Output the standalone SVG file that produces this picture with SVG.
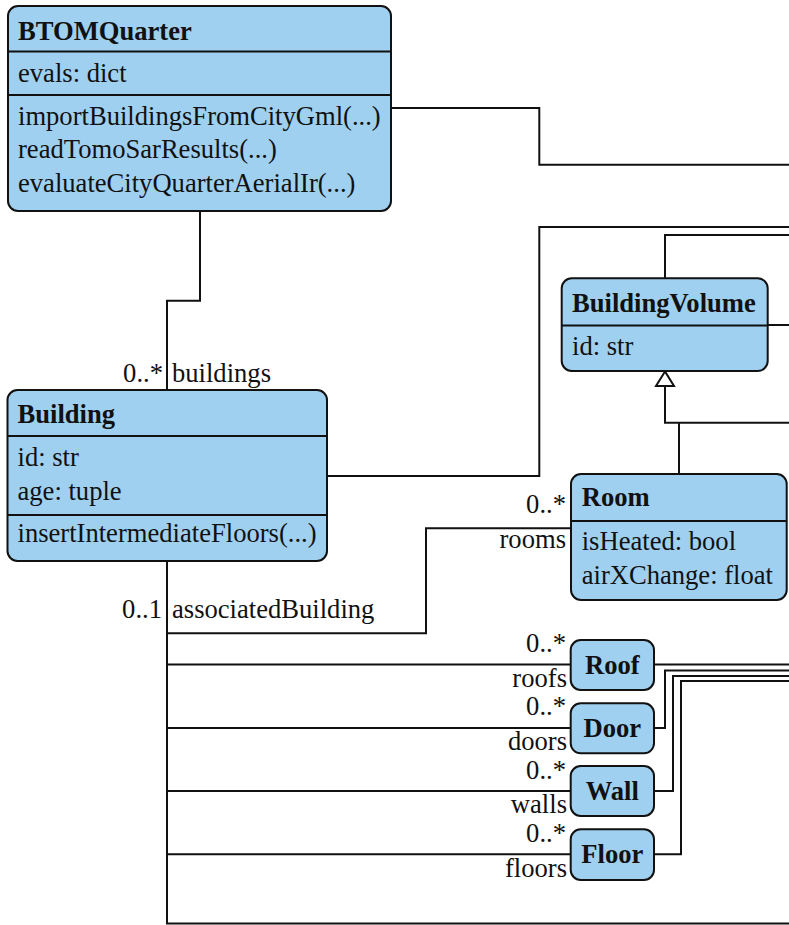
<svg xmlns="http://www.w3.org/2000/svg" width="789" height="925" viewBox="0 0 789 925">
  <style>
    .box { fill: #9fd0f0; stroke: #111; stroke-width: 2; }
    .sep { stroke: #111; stroke-width: 2; }
    .edge { fill: none; stroke: #111; stroke-width: 2; }
    text { font-family: "Liberation Serif", "Times New Roman", "DejaVu Serif", serif; font-size: 26.6px; fill: #111; }
    .title { font-weight: bold; }
    .ctr { text-anchor: middle; }
    .end { text-anchor: end; }
  </style>

  <!-- associations and generalization -->
  <g id="connectors">
    <path class="edge" d="M200,211 V300.7 H167 V390"/>
    <path class="edge" d="M391,108 H539.3 V164.7 H789"/>
    <path class="edge" d="M327,476 H539.3 V227 H789"/>
    <path class="edge" d="M665,278 V235 H789"/>
    <path class="edge" d="M768,325 H789"/>
    <path class="edge" d="M665,386 V422.7 H789"/>
    <path class="edge" d="M679,474 V422.7"/>
    <polygon points="665,371.5 656,386 674,386" fill="#fff" stroke="#111" stroke-width="2"/>
    <path class="edge" d="M571,528.3 H426 V633.3 H167"/>
    <path class="edge" d="M167,561 V923.5 H789"/>
    <path class="edge" d="M167,664.5 H571"/>
    <path class="edge" d="M167,728 H571"/>
    <path class="edge" d="M167,791 H571"/>
    <path class="edge" d="M167,854.3 H571"/>
    <path class="edge" d="M654,664.5 H789"/>
    <path class="edge" d="M654,728 H665 V670.5 H789"/>
    <path class="edge" d="M654,791 H673 V676 H789"/>
    <path class="edge" d="M654,854.3 H681 V681 H789"/>
    <!-- role names and multiplicities -->
    <text class="end" x="163" y="381.7">0..*</text>
    <text x="172" y="381.7">buildings</text>
    <text class="end" x="162" y="618.3">0..1</text>
    <text x="172" y="618.3">associatedBuilding</text>
    <text class="end" x="566" y="513">0..*</text>
    <text class="end" x="566" y="548">rooms</text>
    <text class="end" x="566" y="651.7">0..*</text>
    <text class="end" x="567" y="686.7">roofs</text>
    <text class="end" x="566" y="715">0..*</text>
    <text class="end" x="567" y="749.5">doors</text>
    <text class="end" x="566" y="778.5">0..*</text>
    <text class="end" x="567" y="812.7">walls</text>
    <text class="end" x="566" y="842.3">0..*</text>
    <text class="end" x="567" y="876.7">floors</text>
  </g>

  <g id="BTOMQuarter">
    <rect class="box" x="8" y="6" width="383" height="205" rx="10"/>
    <line class="sep" x1="8" y1="51.5" x2="391" y2="51.5"/>
    <line class="sep" x1="8" y1="95" x2="391" y2="95"/>
    <text class="title" x="18" y="39.5">BTOMQuarter</text>
    <text x="18" y="82">evals: dict</text>
    <text x="18" y="124.5">importBuildingsFromCityGml(...)</text>
    <text x="18" y="158">readTomoSarResults(...)</text>
    <text x="18" y="191.5">evaluateCityQuarterAerialIr(...)</text>
  </g>

  <g id="Building">
    <rect class="box" x="7.5" y="390" width="319.5" height="171" rx="10"/>
    <line class="sep" x1="7.5" y1="436" x2="327" y2="436"/>
    <line class="sep" x1="7.5" y1="515" x2="327" y2="515"/>
    <text class="title" x="17.5" y="422.7">Building</text>
    <text x="17.5" y="466">id: str</text>
    <text x="17.5" y="499.5">age: tuple</text>
    <text x="17.5" y="541.7">insertIntermediateFloors(...)</text>
  </g>

  <g id="BuildingVolume">
    <rect class="box" x="561.7" y="278.3" width="206" height="92.7" rx="10"/>
    <line class="sep" x1="561.7" y1="325.5" x2="767.7" y2="325.5"/>
    <text class="title" x="572" y="311.7">BuildingVolume</text>
    <text x="572" y="355">id: str</text>
  </g>

  <g id="Room">
    <rect class="box" x="571" y="474" width="215.7" height="126" rx="10"/>
    <line class="sep" x1="571" y1="521" x2="786.7" y2="521"/>
    <text class="title" x="581.7" y="506">Room</text>
    <text x="581.7" y="550">isHeated: bool</text>
    <text x="581.7" y="584">airXChange: float</text>
  </g>

  <g id="Roof">
    <rect class="box" x="570.7" y="640" width="83.3" height="50" rx="10"/>
    <text class="title ctr" x="612.3" y="673.5">Roof</text>
  </g>

  <g id="Door">
    <rect class="box" x="570.7" y="703.3" width="83.3" height="50" rx="10"/>
    <text class="title ctr" x="612.3" y="736.8">Door</text>
  </g>

  <g id="Wall">
    <rect class="box" x="570.7" y="766" width="83.3" height="50" rx="10"/>
    <text class="title ctr" x="612.3" y="799.5">Wall</text>
  </g>

  <g id="Floor">
    <rect class="box" x="570.7" y="829.3" width="83.3" height="50.7" rx="10"/>
    <text class="title ctr" x="612.3" y="863">Floor</text>
  </g>
</svg>
